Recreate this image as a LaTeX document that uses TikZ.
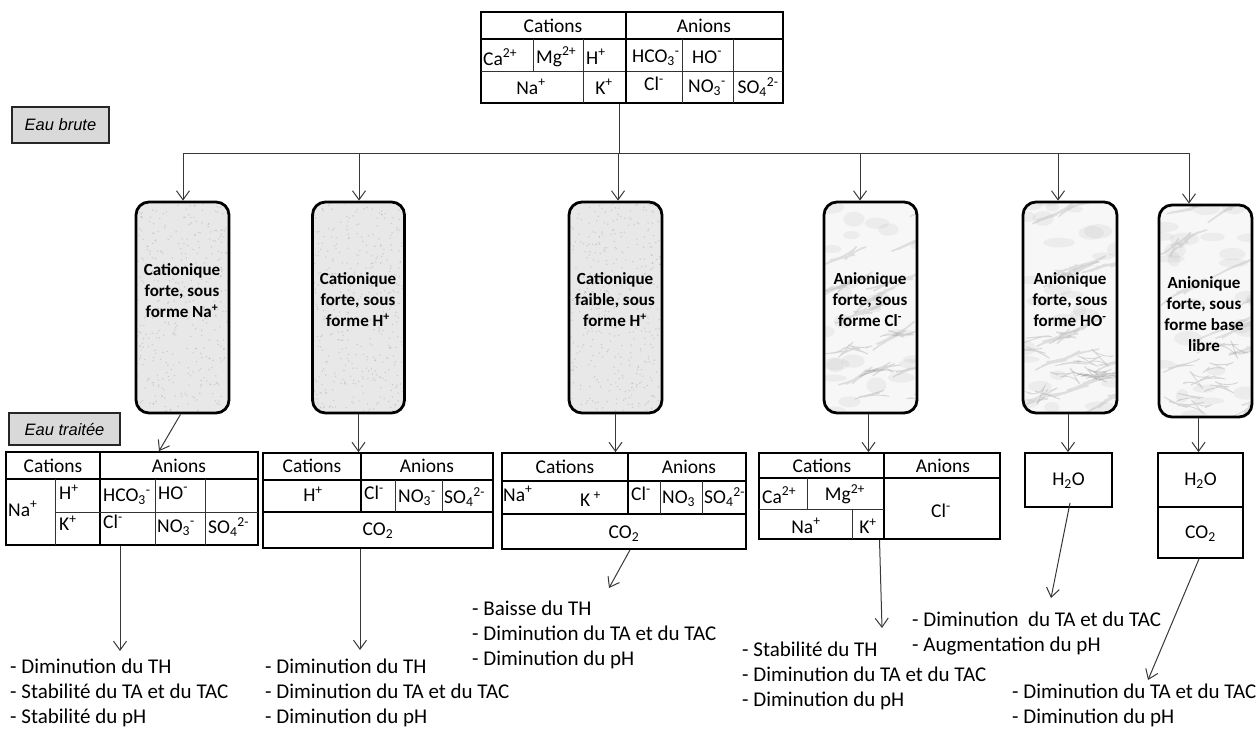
\documentclass[tikz,border=0pt]{standalone}
\usepackage{fontspec}
\setmainfont{Carlito}
\newfontfamily\arialf{Liberation Sans}
\usetikzlibrary{arrows.meta,calc,decorations.pathmorphing}
\newcommand\ionup[1]{\textsuperscript{#1}}
\newcommand\iondn[1]{\textsubscript{#1}}
\begin{document}
\begin{tikzpicture}[x=1pt,y=-1pt,
  conn/.style={draw=black!78, line width=1pt},
  arr/.style={conn, -{Straight Barb[length=9pt,width=13pt,line width=1pt]}},
  tabbox/.style={draw, line width=1.8pt, inner sep=0, fill=white},
  inner/.style={draw=black!80, line width=0.9pt},
  major/.style={draw, line width=1.6pt},
  cell/.style={font=\fontsize{19.5}{22}\selectfont, inner sep=0},
  cellw/.style={cell, anchor=west},
  tag/.style={draw=black!85, line width=1.1pt, fill=black!15, inner sep=0,
    font=\arialf\itshape\fontsize{16.5}{19}\selectfont},
  resin/.style={draw, line width=2.8pt, rounded corners=13pt, inner sep=0,
    minimum height=211pt},
  granite/.style={resin, fill=black!9, path picture={
      \foreach \i in {1,...,420}{
        \fill[black!40, opacity=.35]
          ($(path picture bounding box.north west)+(rnd*96,rnd*216)$) circle (0.8);
      }}},
  marble/.style={resin, fill=black!3, path picture={
      \foreach \i in {1,...,26}{
        \fill[black!22, opacity=.22]
          ($(path picture bounding box.north west)+(rnd*96,rnd*216)$)
          ellipse ({6+rnd*10} and {3+rnd*5});
      }
      \foreach \k in {1,...,12}{
        \draw[black!35, opacity=.3, line width=1.6pt, line cap=round, decorate,
          decoration={random steps,segment length=7pt,amplitude=2pt}]
          ($(path picture bounding box.north west)+(rnd*100-10,rnd*225)$)
          -- ++(30+rnd*25,-10-rnd*15);
      }
      \foreach \k in {1,...,10}{
        \draw[black!45, opacity=.3, line width=0.9pt, decorate,
          decoration={random steps,segment length=6pt,amplitude=3pt}]
          ($(path picture bounding box.north west)+(rnd*90,130+rnd*90)$)
          -- ++(15+rnd*20,rnd*16-8);
      }}},
  resintext/.style={align=center, inner sep=0,
    font=\bfseries\fontsize{17}{21}\selectfont},
  result/.style={align=left, anchor=north west, inner sep=0,
    font=\fontsize{21}{25}\selectfont}
]
\pgfmathsetseed{12}
\useasboundingbox (0,0) rectangle (1260,729);

% ---------- top table (raw water) ----------
\node[tabbox, minimum width=302pt, minimum height=91pt] (tt) at (632,57.5) {};
\draw[major] (481,39) -- (783,39);
\draw[inner] (481,71) -- (783,71);
\draw[major] (626,12) -- (626,103);
\draw[inner] (533,39) -- (533,71);
\draw[inner] (583,39) -- (583,103);
\draw[inner] (682,39) -- (682,103);
\draw[inner] (733,39) -- (733,103);
\node[cell] (ttc) at (553,26) {Cations};
\node[cell] (tta) at (704,26) {Anions};
\node[cellw] (tca) at (483,57) {Ca\ionup{2+}};
\node[cellw] (tmg) at (536,57) {Mg\ionup{2+}};
\node[cellw] (th) at (586,57) {H\ionup{+}};
\node[cellw] (thco) at (632,58) {HCO\iondn{3}\ionup{-}};
\node[cellw] (tho) at (692,57) {HO\ionup{-}};
\node[cell] (tna) at (531,87) {Na\ionup{+}};
\node[cell] (tk) at (604,87) {K\ionup{+}};
\node[cell] (tcl) at (654,84) {Cl\ionup{-}};
\node[cell] (tno) at (707,88) {NO\iondn{3}\ionup{-}};
\node[cell] (tso) at (758,87) {SO\iondn{4}\ionup{2-}};

% ---------- tags ----------
\node[tag, minimum width=97pt, minimum height=36pt] (brute) at (60.5,125) {Eau brute};
\node[tag, minimum width=111pt, minimum height=32pt] (traitee) at (64.5,429) {Eau traitée};

% ---------- resin columns ----------
\node[granite, minimum width=93pt] (c1) at (182.5,307.5) {};
\node[granite, minimum width=92pt] (c2) at (358.5,307.5) {};
\node[granite, minimum width=93pt] (c3) at (615.5,307.5) {};
\node[marble, minimum width=93pt] (c4) at (870.5,307.5) {};
\node[marble, minimum width=94pt] (c5) at (1070,307.5) {};
\node[marble, minimum width=93pt, minimum height=212pt] (c6) at (1205.5,311) {};
\node[resintext] (c1t) at (182,291) {Cationique\\forte, sous\\forme Na\ionup{+}};
\node[resintext] (c2t) at (358,300) {Cationique\\forte, sous\\forme H\ionup{+}};
\node[resintext] (c3t) at (615,300) {Cationique\\faible, sous\\forme H\ionup{+}};
\node[resintext] (c4t) at (870,300) {Anionique\\forte, sous\\forme Cl\ionup{-}};
\node[resintext] (c5t) at (1070,300) {Anionique\\forte, sous\\forme HO\ionup{-}};
\node[resintext] (c6t) at (1204,314) {Anionique\\forte, sous\\forme base\\libre};

% ---------- distribution bus ----------
\coordinate (b1) at (183,153);
\coordinate (b2) at (359,153);
\coordinate (b3) at (618,153);
\coordinate (b4) at (860,153);
\coordinate (b5) at (1058,153);
\coordinate (b6) at (1189,153);
\draw[conn] ([xshift=-12.5pt]tt.south) -- ([xshift=-12.5pt]tt.south |- b1);
\draw[conn] (b1) -- (b6);
\draw[arr] (b1) -- (b1 |- c1.north);
\draw[arr] (b2) -- (b2 |- c2.north);
\draw[arr] (b3) -- (b3 |- c3.north);
\draw[arr] (b4) -- (b4 |- c4.north);
\draw[arr] (b5) -- (b5 |- c5.north);
\draw[arr] (b6) -- (b6 |- c6.north);

% ---------- treated-water tables ----------
% T1
\node[tabbox, minimum width=252pt, minimum height=93pt] (t1) at (132,498.5) {};
\draw[major] (6,479) -- (258,479);
\draw[major] (100,452) -- (100,545);
\draw[inner] (55,479) -- (55,545);
\draw[inner] (55,512) -- (258,512);
\draw[inner] (155,479) -- (155,545);
\draw[inner] (205,479) -- (205,545);
\node[cell] (t1c) at (53,466) {Cations};
\node[cell] (t1a) at (179,466) {Anions};
\node[cellw] (t1na) at (8,509) {Na\ionup{+}};
\node[cellw] (t1h) at (59,492) {H\ionup{+}};
\node[cellw] (t1k) at (59,523) {K\ionup{+}};
\node[cellw] (t1hco) at (103,497) {HCO\iondn{3}\ionup{-}};
\node[cellw] (t1ho) at (158,493) {HO\ionup{-}};
\node[cellw] (t1cl) at (103,522) {Cl\ionup{-}};
\node[cellw] (t1no) at (157,528) {NO\iondn{3}\ionup{-}};
\node[cellw] (t1so) at (208,527) {SO\iondn{4}\ionup{2-}};

% T2
\node[tabbox, minimum width=230pt, minimum height=95pt] (t2) at (378,500.5) {};
\draw[major] (263,480) -- (493,480);
\draw[major] (263,512) -- (493,512);
\draw[major] (361,453) -- (361,512);
\draw[inner] (395,480) -- (395,512);
\draw[inner] (442,480) -- (442,512);
\node[cell] (t2c) at (312,466) {Cations};
\node[cell] (t2a) at (427,466) {Anions};
\node[cell] (t2h) at (313,494) {H\ionup{+}};
\node[cellw] (t2cl) at (364,493) {Cl\ionup{-}};
\node[cellw] (t2no) at (398,498) {NO\iondn{3}\ionup{-}};
\node[cellw] (t2so) at (444,497) {SO\iondn{4}\ionup{2-}};
\node[cell] (t2co) at (378,531) {CO\iondn{2}};

% T3
\node[tabbox, minimum width=244pt, minimum height=96pt] (t3) at (624,501) {};
\draw[major] (502,481) -- (746,481);
\draw[major] (502,514) -- (746,514);
\draw[major] (628,453) -- (628,514);
\draw[inner] (660,481) -- (660,514);
\draw[inner] (702,481) -- (702,514);
\node[cell] (t3c) at (565,467) {Cations};
\node[cell] (t3a) at (689,467) {Anions};
\node[cellw] (t3na) at (503,494) {Na\ionup{+}};
\node[cellw] (t3k) at (580,499) {K\,\ionup{+}};
\node[cellw] (t3cl) at (631,494) {Cl\ionup{-}};
\node[cellw] (t3no) at (662,499) {NO\iondn{3}};
\node[cellw] (t3so) at (704,497) {SO\iondn{4}\ionup{2-}};
\node[cell] (t3co) at (624,534) {CO\iondn{2}};

% T4
\node[tabbox, minimum width=241pt, minimum height=86pt] (t4) at (879.5,496) {};
\draw[major] (759,478) -- (1000,478);
\draw[major] (884,453) -- (884,539);
\draw[inner] (759,509) -- (884,509);
\draw[inner] (807,478) -- (807,509);
\draw[inner] (852,509) -- (852,539);
\node[cell] (t4c) at (822,466) {Cations};
\node[cell] (t4a) at (943,466) {Anions};
\node[cellw] (t4ca) at (762,495) {Ca\ionup{2+}};
\node[cell] (t4mg) at (845,494) {Mg\ionup{2+}};
\node[cell] (t4na) at (806,526) {Na\ionup{+}};
\node[cell] (t4k) at (868,526) {K\ionup{+}};
\node[cell] (t4cl) at (941,511) {Cl\ionup{-}};

% T5
\node[tabbox, minimum width=87pt, minimum height=54pt] (t5) at (1068.5,480) {};
\node[cell] (t5w) at (1068.5,481) {H\iondn{2}O};

% T6
\node[tabbox, minimum width=85pt, minimum height=105pt] (t6) at (1200.5,505.5) {};
\draw[major] (1158,507) -- (1243,507);
\node[cell] (t6w) at (1200.5,481) {H\iondn{2}O};
\node[cell] (t6co) at (1200.5,534) {CO\iondn{2}};

% ---------- column -> table connectors ----------
\draw[arr] ([xshift=-2pt]c1.south) -- ([xshift=27pt]t1.north);
\draw[arr] (c2.south) -- (c2.south |- t2.north);
\draw[arr] (c3.south) -- (c3.south |- t3.north);
\draw[arr] ([xshift=-2pt]c4.south) -- ([xshift=-2pt]c4.south |- t4.north);
\draw[arr] ([xshift=-2pt]c5.south) -- ([xshift=-2pt]c5.south |- t5.north);
\draw[arr] ([xshift=-2pt]t6.north |- c6.south) -- ([xshift=-2pt]t6.north);

% ---------- results ----------
\node[result] (r1) at (10,659) {- Diminution du TH\\- Stabilité du TA et du TAC\\- Stabilité du pH};
\node[result] (r2) at (265,659) {- Diminution du TH\\- Diminution du TA et du TAC\\- Diminution du pH};
\node[result] (r3) at (472,601) {- Baisse du TH\\- Diminution du TA et du TAC\\- Diminution du pH};
\node[result] (r4) at (742,642) {- Stabilité du TH\\- Diminution du TA et du TAC\\- Diminution du pH};
\node[result] (r5) at (912,612) {- Diminution\ \ du TA et du TAC\\- Augmentation du pH};
\node[result] (r6) at (1012,684) {- Diminution du TA et du TAC\\- Diminution du pH};

\coordinate (e1) at (120,651);
\coordinate (e2) at (360,650);
\coordinate (e3) at (609,588);
\coordinate (e4) at (882,628);
\coordinate (e5) at (1051,598);
\coordinate (e6) at (1148,680);
\draw[arr] ([xshift=-12pt]t1.south) -- (e1);
\draw[arr] ([xshift=-18pt]t2.south) -- (e2);
\draw[arr] ([xshift=6pt]t3.south) -- (e3);
\draw[arr] (t4.south) -- (e4);
\draw[arr] ([xshift=1.5pt,yshift=5pt]t5.south) -- (e5);
\draw[arr] ([xshift=-1.5pt]t6.south) -- (e6);
\end{tikzpicture}
\end{document}
